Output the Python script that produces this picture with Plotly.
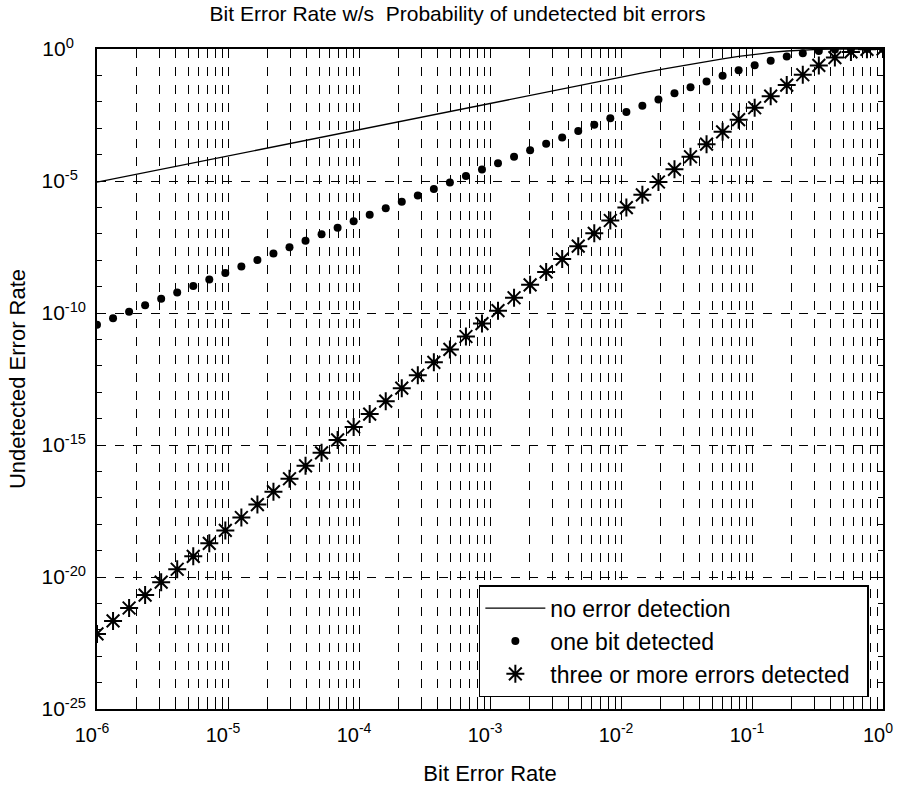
import plotly.graph_objects as go

# Bit error rate (x) – 50 log-spaced samples
ber = [1.000e-6, 1.326e-6, 1.758e-6, 2.330e-6, 3.089e-6, 4.095e-6, 5.429e-6, 7.197e-6, 9.541e-6, 1.265e-5,
       1.677e-5, 2.223e-5, 2.947e-5, 3.907e-5, 5.179e-5, 6.866e-5, 9.103e-5, 1.207e-4, 1.600e-4, 2.121e-4,
       2.812e-4, 3.728e-4, 4.942e-4, 6.551e-4, 8.685e-4, 1.151e-3, 1.526e-3, 2.024e-3, 2.683e-3, 3.556e-3,
       4.715e-3, 6.251e-3, 8.286e-3, 1.099e-2, 1.456e-2, 1.931e-2, 2.560e-2, 3.393e-2, 4.498e-2, 5.964e-2,
       7.906e-2, 1.048e-1, 1.389e-1, 1.842e-1, 2.442e-1, 3.237e-1, 4.292e-1, 5.692e-1, 7.543e-1, 1.000e0]

no_detection = [9.00e-6, 1.193e-5, 1.582e-5, 2.097e-5, 2.780e-5, 3.686e-5, 4.886e-5, 6.477e-5, 8.587e-5, 1.138e-4,
                1.509e-4, 2.001e-4, 2.652e-4, 3.516e-4, 4.661e-4, 6.179e-4, 8.193e-4, 1.086e-3, 1.439e-3, 1.907e-3,
                2.528e-3, 3.350e-3, 4.439e-3, 5.881e-3, 7.790e-3, 1.031e-2, 1.365e-2, 1.807e-2, 2.389e-2, 3.155e-2,
                4.165e-2, 5.487e-2, 7.215e-2, 9.467e-2, 1.237e-1, 1.610e-1, 2.082e-1, 2.671e-1, 3.391e-1, 4.251e-1,
                5.235e-1, 6.308e-1, 7.397e-1, 8.399e-1, 9.195e-1, 9.704e-1, 9.936e-1, 9.995e-1, 1.000e0, 1.000e0]

one_bit = [3.60e-11, 6.33e-11, 1.113e-10, 1.954e-10, 3.435e-10, 6.04e-10, 1.061e-9, 1.865e-9, 3.277e-9, 5.76e-9,
           1.012e-8, 1.779e-8, 3.127e-8, 5.495e-8, 9.656e-8, 1.697e-7, 2.983e-7, 5.245e-7, 9.216e-7, 1.620e-6,
           2.843e-6, 4.995e-6, 8.772e-6, 1.540e-5, 2.704e-5, 4.744e-5, 8.323e-5, 1.461e-4, 2.559e-4, 4.476e-4,
           7.827e-4, 1.364e-3, 2.381e-3, 4.128e-3, 7.128e-3, 1.227e-2, 2.093e-2, 3.536e-2, 5.904e-2, 9.680e-2,
           1.553e-1, 2.418e-1, 3.618e-1, 5.147e-1, 6.855e-1, 8.429e-1, 9.500e-1, 9.934e-1, 9.999e-1, 1.000e0]

three_more = [7.0e-23, 2.163e-22, 6.688e-22, 2.063e-21, 6.374e-21, 1.969e-20, 6.079e-20, 1.878e-19, 5.800e-19, 1.792e-18,
              5.535e-18, 1.710e-17, 5.280e-17, 1.631e-16, 5.035e-16, 1.556e-15, 4.806e-15, 1.486e-14, 4.588e-14, 1.417e-13,
              4.376e-13, 1.352e-12, 4.166e-12, 1.286e-11, 3.969e-11, 1.223e-10, 3.773e-10, 1.165e-9, 3.588e-9, 1.103e-8,
              3.395e-8, 1.042e-7, 3.191e-7, 9.853e-7, 2.999e-6, 9.145e-6, 2.768e-5, 8.312e-5, 2.476e-4, 7.288e-4,
              2.108e-3, 5.961e-3, 1.633e-2, 4.292e-2, 1.059e-1, 2.392e-1, 4.743e-1, 7.746e-1, 9.746e-1, 1.000e0]

# Tick positions and labels (y labels padded so the "10" bases line up, MATLAB style)
NB = "\u00a0"
x_tickvals = [1e-6, 1e-5, 1e-4, 1e-3, 1e-2, 1e-1, 1e0]
x_ticktext = ["10<sup>-6</sup>", "10<sup>-5</sup>", "10<sup>-4</sup>", "10<sup>-3</sup>",
              "10<sup>-2</sup>", "10<sup>-1</sup>", "10<sup>0</sup>"]
y_tickvals = [1e-25, 1e-20, 1e-15, 1e-10, 1e-5, 1e0]
y_ticktext = ["10<sup>-25</sup>", "10<sup>-20</sup>", "10<sup>-15</sup>", "10<sup>-10</sup>",
              "10<sup>-5" + NB * 2 + "</sup>", "10<sup>0" + NB * 3 + "</sup>"]

FONT = "Liberation Sans, Arial, Helvetica, sans-serif"

fig = go.Figure()
fig.add_trace(go.Scatter(x=ber, y=no_detection, mode="lines", name="no error detection",
                         line=dict(color="black", width=1.3)))
fig.add_trace(go.Scatter(x=ber, y=one_bit, mode="markers", name="one bit detected",
                         marker=dict(symbol="circle", size=8, color="black")))
fig.add_trace(go.Scatter(x=ber, y=three_more, mode="markers", name="three or more errors detected" + NB * 2,
                         marker=dict(symbol="asterisk-open", size=15, color="black",
                                     line=dict(color="black", width=2))))

axis_common = dict(
    type="log", showline=True, linecolor="black", linewidth=1.5, mirror="ticks",
    ticks="inside", ticklen=9, tickwidth=1, tickcolor="black",
    showgrid=True, gridcolor="black", gridwidth=1, griddash="dash",
    zeroline=False, automargin=False, tickmode="array", ticklabeloverflow="allow",
)

fig.update_xaxes(**axis_common, range=[-6, 0], tickvals=x_tickvals, ticktext=x_ticktext,
                 ticklabelstandoff=7, ticklabelshift=-5,
                 tickfont=dict(family=FONT, size=20, color="black"),
                 minor=dict(dtick="D1", ticks="inside", ticklen=5, tickcolor="black",
                            showgrid=True, gridcolor="black", gridwidth=1, griddash="dash"),
                 title=dict(text="Bit Error Rate", font=dict(family=FONT, size=22, color="black"), standoff=21))
fig.update_yaxes(**axis_common, range=[-25, 0], tickvals=y_tickvals, ticktext=y_ticktext,
                 ticklabelstandoff=5,
                 tickfont=dict(family=FONT, size=21, color="black"),
                 minor=dict(dtick=1, ticks="inside", ticklen=5, tickcolor="black", showgrid=False),
                 title=dict(text="Undetected Error Rate", font=dict(family=FONT, size=22, color="black"), standoff=10))

fig.update_layout(
    width=899, height=790,
    margin=dict(l=97, r=16, t=49, b=81),
    paper_bgcolor="white", plot_bgcolor="white",
    title=dict(text="Bit Error Rate w/s  Probability of undetected bit errors",
               font=dict(family=FONT, size=21, color="black"), x=0.509, xanchor="center", y=0.983, yanchor="middle"),
    showlegend=True,
    legend=dict(x=0.982, xanchor="right", y=0.018, yanchor="bottom",
                bgcolor="white", bordercolor="black", borderwidth=1.5,
                font=dict(family=FONT, size=23, color="black"), itemwidth=60,
                tracegroupgap=0),
)

# remove the browser's default 8px body margin so the figure sits at the page origin
fig.write_html("out.html", config={"displayModeBar": False},
               post_script="document.body.style.margin='0px';")
